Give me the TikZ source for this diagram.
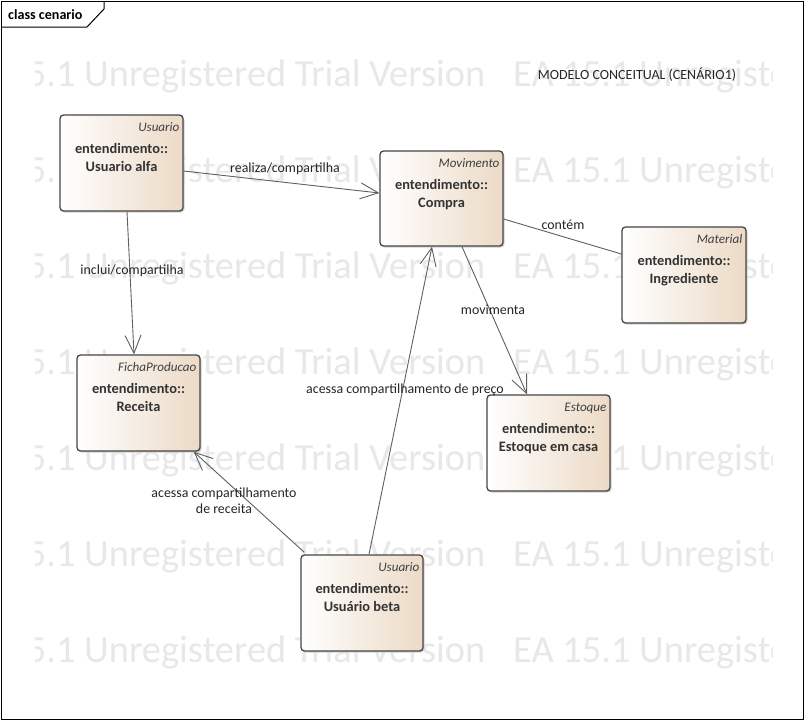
\documentclass[tikz,border=0pt]{standalone}
\usepackage{fontspec}
\setmainfont{Carlito}
\usetikzlibrary{arrows.meta,calc}
\definecolor{boxtan}{RGB}{236,218,198}
\definecolor{edgec}{RGB}{70,70,70}
\definecolor{linec}{RGB}{96,96,96}
\definecolor{wmark}{RGB}{232,232,232}
\tikzset{
  umlbox/.style={draw=edgec, line width=1.3pt, rounded corners=3.5pt, left color=white, right color=boxtan, inner sep=0pt},
  shadowbox/.style={fill=black!18, rounded corners=3.5pt, draw=none, inner sep=0pt},
  stereo/.style={font=\fontsize{13.1}{15}\selectfont\itshape, text=black!75, anchor=base east, inner sep=0pt},
  cname/.style={font=\fontsize{14.4}{17}\selectfont\bfseries, text=black!80, anchor=base, inner sep=0pt},
  lbl/.style={font=\fontsize{13.9}{16}\selectfont, text=black!85, inner sep=1pt, align=center},
  conn/.style={draw=linec, line width=0.9pt},
  arr/.style={conn, -{Straight Barb[length=18pt,width=16pt,line width=0.9pt]}},
  wm/.style={font=\fontsize{38.4}{38.4}\selectfont, text=wmark, anchor=base west, inner sep=0pt},
}
\newcommand{\umlclass}[8]{%
  \node[shadowbox, minimum width=#4pt, minimum height=#5pt] at (#2+1.5,#3+1.5) {};
  \node[umlbox, minimum width=#4pt, minimum height=#5pt] (#1) at (#2,#3) {};
  \node[stereo] at ([xshift=-4pt,yshift=-17pt]#1.north east) {#6};
  \node[cname] at ([yshift=-39pt]#1.north) {#7};
  \node[cname] at ([yshift=-57pt]#1.north) {#8};
}
\begin{document}
\begin{tikzpicture}[x=1pt,y=-1pt]
\useasboundingbox (0,0) rectangle (806,721);
\fill[white] (0,0) rectangle (806,721);
% watermark
\begin{scope}
\clip (35,30) rectangle (772,700);
\foreach \yy in {86,182,278,374,470,566,662}{
  \node[wm] at (-42,\yy) {EA 15.1 Unregistered Trial Version};
  \node[wm] at (513,\yy) {EA 15.1 Unregistered Trial Version};
}
\end{scope}
% frame
\draw[black, line width=1pt] (1,1) rectangle (803,719);
\draw[black, line width=1pt] (1,27) -- (87,27) -- (104,9) -- (104,1);
\node[font=\fontsize{14.1}{16}\selectfont\bfseries, anchor=base west, inner sep=0pt] (title) at (8,19) {class cenario};
\node[font=\fontsize{14}{16}\selectfont, text=black!85, inner sep=0pt] (model) at (637,75) {MODELO CONCEITUAL (CENÁRIO1)};
% classes
\umlclass{alfa}{121.5}{163}{123}{96}{Usuario}{entendimento::}{Usuario alfa}
\umlclass{compra}{441.5}{198.5}{123}{95}{Movimento}{entendimento::}{Compra}
\umlclass{ingr}{684}{275}{124}{96}{Material}{entendimento::}{Ingrediente}
\umlclass{rec}{138.5}{403}{123}{96}{FichaProducao}{entendimento::}{Receita}
\umlclass{estq}{548.5}{443}{123}{96}{Estoque}{entendimento::}{Estoque em casa}
\umlclass{beta}{362}{603}{122}{96}{Usuario}{entendimento::}{Usuário beta}
% connectors
\draw[arr] ([yshift=-8pt]alfa.east) -- ([yshift=5.5pt]compra.west);
\node[lbl] (l1) at (285,169) {realiza/compartilha};
\draw[arr] ([xshift=5.5pt]alfa.south) -- ([xshift=-4.5pt]rec.north);
\node[lbl] (l2) at (132,271) {inclui/compartilha};
\draw[conn] ([yshift=-20.5pt]compra.east) -- ([yshift=21pt]ingr.west);
\node[lbl] (l3) at (563,225) {contém};
\draw[arr] ([xshift=20.5pt]compra.south) -- ([xshift=-21.5pt]estq.north);
\node[lbl] (l4) at (493,310) {movimenta};
\draw[arr] ([xshift=7pt]beta.north) -- ([xshift=-9.5pt]compra.south);
\node[lbl] (l5) at (405,390) {acessa compartilhamento de preço};
\draw[arr] ([xshift=4pt,yshift=2pt]beta.north west) -- ([xshift=-7pt]rec.south east);
\node[lbl] (l6) at (224,501) {acessa compartilhamento\\de receita};
\end{tikzpicture}
\end{document}
